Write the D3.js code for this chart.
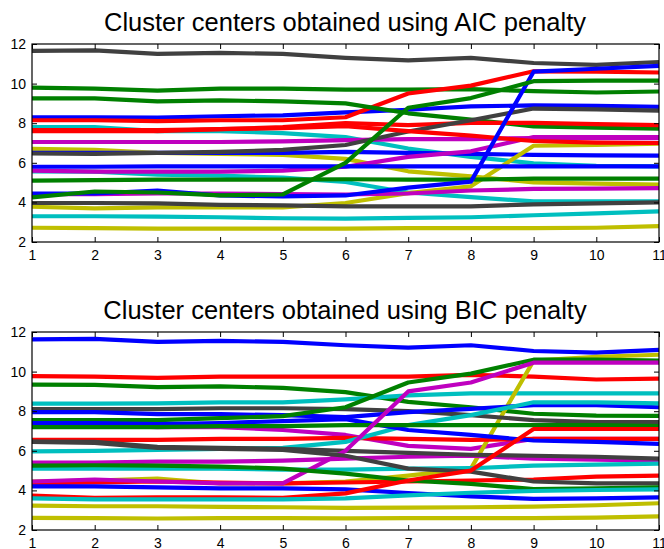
<!DOCTYPE html>
<html>
<head>
<meta charset="utf-8">
<script src="https://cdn.jsdelivr.net/npm/d3@7"></script>
<style>
  body { margin: 0; background: #fff; }
  svg { display: block; font-family: "Liberation Sans", Arial, sans-serif; }
  .title { font-size: 25.5px; fill: #000; }
  .tick text { font-size: 14px; fill: #000; }
</style>
</head>
<body>
<svg id="chart" width="664" height="549"></svg>
<script>
// x positions (model index)
const steps = [1, 2, 3, 4, 5, 6, 7, 8, 9, 10, 11];
const yTicks = [2, 4, 6, 8, 10, 12];

// AIC penalty - cluster centers, grouped by line colour
const aicBlue = [
  [8.3, 8.3, 8.28, 8.35, 8.4, 8.55, 8.68, 8.85, 8.9, 8.88, 8.82],
  [6.5, 6.5, 6.5, 6.5, 6.5, 6.55, 6.5, 6.45, 6.4, 6.38, 6.36],
  [5.8, 5.8, 5.82, 5.82, 5.82, 5.82, 5.82, 5.82, 5.82, 5.82, 5.82],
  [4.45, 4.45, 4.6, 4.35, 4.3, 4.35, 4.75, 5.05, 10.6, 10.75, 10.9]
];
const aicGreen = [
  [9.8, 9.75, 9.65, 9.75, 9.75, 9.7, 9.7, 9.72, 9.62, 9.55, 9.6],
  [9.25, 9.25, 9.1, 9.15, 9.1, 9.0, 8.5, 8.18, 7.84, 7.78, 7.72],
  [5.1, 5.12, 5.15, 5.15, 5.15, 5.17, 5.15, 5.15, 5.2, 5.2, 5.2],
  [4.25, 4.55, 4.5, 4.35, 4.4, 6.0, 8.78, 9.27, 10.12, 10.15, 10.15]
];
const aicRed = [
  [8.15, 8.15, 8.1, 8.15, 8.15, 8.3, 9.5, 9.9, 10.62, 10.6, 10.56],
  [7.6, 7.6, 7.6, 7.7, 7.8, 8.0, 7.9, 8.02, 8.02, 7.95, 7.9],
  [7.65, 7.65, 7.65, 7.7, 7.75, 7.85, 7.6, 7.37, 7.1, 7.02, 7.0]
];
const aicCyan = [
  [7.8, 7.8, 7.6, 7.6, 7.5, 7.3, 6.72, 6.3, 5.97, 5.85, 5.82],
  [5.57, 5.55, 5.4, 5.35, 5.25, 5.03, 4.5, 4.27, 4.05, 4.05, 4.05],
  [3.3, 3.3, 3.28, 3.25, 3.2, 3.18, 3.22, 3.25, 3.35, 3.45, 3.55]
];
const aicMagenta = [
  [7.05, 7.05, 7.05, 7.05, 7.08, 7.15, 7.2, 7.2, 7.25, 7.25, 7.25],
  [5.6, 5.55, 5.55, 5.55, 5.6, 5.8, 6.3, 6.58, 7.3, 7.3, 7.3],
  [4.42, 4.42, 4.45, 4.45, 4.42, 4.4, 4.45, 4.6, 4.68, 4.7, 4.72]
];
const aicYellow = [
  [6.7, 6.65, 6.5, 6.45, 6.4, 6.2, 5.57, 5.31, 5.01, 4.95, 4.9],
  [3.78, 3.7, 3.75, 3.75, 3.75, 3.97, 4.47, 4.81, 6.86, 6.9, 6.97],
  [2.72, 2.7, 2.68, 2.68, 2.68, 2.68, 2.7, 2.7, 2.7, 2.72, 2.8]
];
const aicGray = [
  [11.65, 11.68, 11.5, 11.55, 11.5, 11.3, 11.17, 11.3, 11.04, 10.95, 11.09],
  [6.47, 6.45, 6.5, 6.55, 6.65, 6.9, 7.58, 8.15, 8.74, 8.7, 8.64],
  [3.97, 3.97, 3.95, 3.88, 3.85, 3.8, 3.8, 3.8, 3.9, 3.95, 4.0]
];

// BIC penalty - cluster centers, grouped by line colour
const bicBlue = [
  [11.63, 11.65, 11.5, 11.55, 11.5, 11.33, 11.21, 11.33, 11.04, 10.96, 11.1],
  [7.95, 7.95, 7.85, 7.85, 7.8, 7.7, 7.95, 8.12, 8.3, 8.3, 8.2],
  [7.4, 7.4, 7.35, 7.4, 7.5, 7.6, 7.05, 6.8, 6.52, 6.45, 6.35],
  [4.2, 4.2, 4.15, 4.1, 4.1, 4.05, 3.87, 3.7, 3.57, 3.6, 3.65]
];
const bicGreen = [
  [9.34, 9.33, 9.22, 9.25, 9.18, 8.96, 8.47, 8.2, 7.87, 7.78, 7.76],
  [7.55, 7.55, 7.55, 7.65, 7.75, 8.2, 9.45, 9.9, 10.6, 10.6, 10.55],
  [7.2, 7.2, 7.2, 7.25, 7.25, 7.3, 7.3, 7.3, 7.3, 7.3, 7.25],
  [5.25, 5.27, 5.25, 5.2, 5.1, 4.85, 4.5, 4.33, 4.07, 4.1, 4.15]
];
const bicRed = [
  [9.77, 9.75, 9.68, 9.75, 9.75, 9.75, 9.75, 9.83, 9.75, 9.6, 9.65],
  [6.55, 6.55, 6.55, 6.6, 6.6, 6.65, 6.6, 6.55, 6.6, 6.6, 6.6],
  [4.35, 4.4, 4.45, 4.4, 4.35, 4.4, 4.45, 4.5, 4.55, 4.7, 4.75],
  [3.74, 3.62, 3.65, 3.65, 3.62, 3.85, 4.5, 5.0, 7.1, 7.1, 7.1]
];
const bicCyan = [
  [8.38, 8.38, 8.4, 8.45, 8.45, 8.6, 8.8, 8.9, 8.9, 8.9, 8.9],
  [5.97, 6.0, 6.05, 6.1, 6.15, 6.45, 7.3, 7.8, 8.45, 8.45, 8.4],
  [5.1, 5.1, 5.1, 5.1, 5.05, 5.05, 5.1, 5.12, 5.25, 5.3, 5.35],
  [3.6, 3.55, 3.55, 3.55, 3.55, 3.6, 3.75, 3.88, 3.97, 4.02, 4.05]
];
const bicMagenta = [
  [7.3, 7.3, 7.2, 7.2, 7.05, 6.8, 6.25, 6.1, 6.6, 6.6, 6.6],
  [5.4, 5.4, 5.45, 5.45, 5.5, 5.6, 5.7, 5.75, 5.6, 5.55, 5.5],
  [4.45, 4.55, 4.45, 4.35, 4.35, 6.0, 9.0, 9.45, 10.45, 10.45, 10.45]
];
const bicYellow = [
  [4.45, 4.5, 4.6, 4.35, 4.35, 4.45, 4.75, 5.1, 10.55, 10.75, 10.85],
  [3.23, 3.2, 3.2, 3.17, 3.15, 3.12, 3.13, 3.15, 3.18, 3.25, 3.35],
  [2.61, 2.6, 2.58, 2.6, 2.6, 2.59, 2.6, 2.6, 2.6, 2.62, 2.69]
];
const bicGray = [
  [8.1, 8.1, 8.1, 8.15, 8.15, 8.1, 8.0, 7.8, 7.55, 7.45, 7.45],
  [6.47, 6.45, 6.2, 6.15, 6.1, 6.0, 5.9, 5.8, 5.75, 5.7, 5.6],
  [6.45, 6.4, 6.15, 6.1, 6.05, 5.75, 5.1, 4.95, 4.45, 4.35, 4.35]
];

// matlab default colour order
const colors = {
  blue: '#0000ff', green: '#008000', red: '#ff0000', cyan: '#00bfbf',
  magenta: '#bf00bf', yellow: '#bfbf00', gray: '#404040'
};

const svg = d3.select('#chart');
const margin = {left: 32, right: 5};
const width = 664 - margin.left - margin.right;

const x = d3.scaleLinear().domain([1, 11]).range([margin.left, margin.left + width]);

const makePanel = (top, title, groups) => {
  const h = 198;
  const y = d3.scaleLinear().domain([2, 12]).range([top + h, top]);
  const g = svg.append('g');

  g.append('text')
    .attr('class', 'title')
    .attr('x', 345)
    .attr('y', top - 13)
    .attr('text-anchor', 'middle')
    .text(title);

  const line = d3.line()
    .x((d, i) => x(steps[i]))
    .y(d => y(d));

  // matlab cycles the colours, so interleave the groups
  const order = ['blue', 'green', 'red', 'cyan', 'magenta', 'yellow', 'gray'];
  const maxLen = d3.max(order, k => groups[k].length);
  const series = [];
  for (let r = 0; r < maxLen; r++) {
    order.forEach(k => {
      if (groups[k][r]) series.push({color: colors[k], values: groups[k][r]});
    });
  }

  g.append('g')
    .selectAll('path')
    .data(series)
    .enter()
    .append('path')
    .attr('d', d => line(d.values))
    .attr('fill', 'none')
    .attr('stroke', d => d.color)
    .attr('stroke-width', 4.2)
    .attr('stroke-linejoin', 'round');

  // axes with ticks pointing inward, box all round
  const tickLen = 5;
  g.append('g')
    .attr('transform', `translate(0,${top + h})`)
    .call(d3.axisBottom(x).tickValues(steps).tickSize(-tickLen).tickPadding(8).tickFormat(d3.format('d')))
    .call(a => a.select('.domain').remove());
  g.append('g')
    .attr('transform', `translate(0,${top})`)
    .call(d3.axisTop(x).tickValues(steps).tickSize(-tickLen).tickFormat(''))
    .call(a => a.select('.domain').remove());
  g.append('g')
    .attr('transform', `translate(${margin.left},0)`)
    .call(d3.axisLeft(y).tickValues(yTicks).tickSize(-tickLen).tickPadding(6).tickFormat(d3.format('d')))
    .call(a => a.select('.domain').remove());
  g.append('g')
    .attr('transform', `translate(${margin.left + width},0)`)
    .call(d3.axisRight(y).tickValues(yTicks).tickSize(-tickLen).tickFormat(''))
    .call(a => a.select('.domain').remove());

  g.append('rect')
    .attr('x', margin.left)
    .attr('y', top)
    .attr('width', width)
    .attr('height', h)
    .attr('fill', 'none')
    .attr('stroke', '#000')
    .attr('stroke-width', 1.2);
};

makePanel(44, 'Cluster centers obtained using AIC penalty', {
  blue: aicBlue, green: aicGreen, red: aicRed, cyan: aicCyan,
  magenta: aicMagenta, yellow: aicYellow, gray: aicGray
});
makePanel(332, 'Cluster centers obtained using BIC penalty', {
  blue: bicBlue, green: bicGreen, red: bicRed, cyan: bicCyan,
  magenta: bicMagenta, yellow: bicYellow, gray: bicGray
});
</script>
</body>
</html>
